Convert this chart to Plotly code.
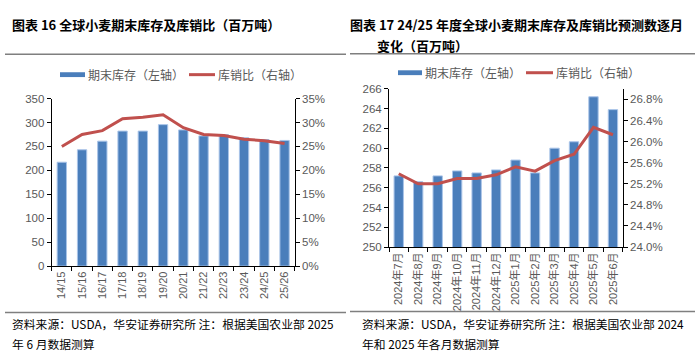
import plotly.graph_objects as go

# ---- data ----
seasons = ["14/15", "15/16", "16/17", "17/18", "18/19", "19/20",
           "20/21", "21/22", "22/23", "23/24", "24/25", "25/26"]
stocks_1 = [217, 243, 261, 282, 282, 295.5, 284.5, 272, 274.5, 268, 264.5, 262.5]
ratio_1 = [25.0, 27.5, 28.3, 30.8, 31.1, 31.6, 28.9, 27.5, 27.3, 26.5, 26.2, 25.6]

months = ["2024年7月", "2024年8月", "2024年9月", "2024年10月", "2024年11月", "2024年12月",
          "2025年1月", "2025年2月", "2025年3月", "2025年4月", "2025年5月", "2025年6月"]
stocks_2 = [257.2, 256.6, 257.2, 257.7, 257.5, 257.8, 258.8, 257.5, 260.0, 260.65, 265.2, 263.9]
ratio_2 = [25.39, 25.2, 25.2, 25.3, 25.3, 25.37, 25.52, 25.44, 25.64, 25.76, 26.27, 26.13]

left1_ticks = [0, 50, 100, 150, 200, 250, 300, 350]
right1_ticks = [0, 5, 10, 15, 20, 25, 30, 35]
left2_ticks = [250, 252, 254, 256, 258, 260, 262, 264, 266]
right2_ticks = [24.0, 24.4, 24.8, 25.2, 25.6, 26.0, 26.4, 26.8]

W, H = 700, 363
BAR = "#4A7EBB"
BAR_EDGE = "#A9C4E8"
LINE = "#C0504D"
TICKC = "#595959"
FONT = "Liberation Sans, Noto Sans CJK SC, sans-serif"
CJK = "Noto Sans CJK SC, sans-serif"


def px(x):
    return x / W


def py(y):
    return 1 - y / H


fig = go.Figure()
fig.add_trace(go.Bar(x=seasons, y=stocks_1, marker=dict(color=BAR, line=dict(color=BAR_EDGE, width=1)),
                     width=0.46, xaxis="x", yaxis="y", name="期末库存（左轴）", showlegend=False))
fig.add_trace(go.Scatter(x=seasons, y=ratio_1, mode="lines", line=dict(color=LINE, width=3),
                         xaxis="x", yaxis="y2", name="库销比（右轴）", showlegend=False))
fig.add_trace(go.Bar(x=months, y=stocks_2, marker=dict(color=BAR, line=dict(color=BAR_EDGE, width=1)),
                     width=0.48, xaxis="x2", yaxis="y3", name="期末库存（左轴）", showlegend=False))
fig.add_trace(go.Scatter(x=months, y=ratio_2, mode="lines", line=dict(color=LINE, width=3),
                         xaxis="x2", yaxis="y4", name="库销比（右轴）", showlegend=False))

tickfont = dict(family=FONT, size=11.5, color=TICKC)
common_y = dict(showgrid=False, zeroline=False, showline=True, linecolor="#000000", linewidth=1,
                ticks="outside", ticklen=4, tickcolor="#000000", tickfont=tickfont, fixedrange=True)
common_x = dict(type="category", showgrid=False, zeroline=False, showline=True, linecolor="#000000",
                linewidth=1, ticks="outside", ticklen=4, tickcolor="#000000", tickson="boundaries",
                tickangle=-90, tickfont=dict(family=FONT, size=11, color=TICKC), fixedrange=True)

x1d = [px(51.7), px(294.7)]
y1d = [py(269), py(95.7)]
x2d = [px(389), px(622.7)]
y2d = [py(249.3), py(85.7)]

fig.update_layout(
    width=W, height=H, margin=dict(l=0, r=0, t=0, b=0),
    paper_bgcolor="white", plot_bgcolor="white", showlegend=False,
    bargap=0,
    xaxis=dict(domain=x1d, anchor="y", range=[-0.5, 11.5], **common_x),
    yaxis=dict(domain=y1d, anchor="x", range=[0, 350], tickvals=left1_ticks, **common_y),
    yaxis2=dict(overlaying="y", side="right", anchor="x", range=[0, 35], tickvals=right1_ticks,
                ticktext=[f"{v}%" for v in right1_ticks], **common_y),
    xaxis2=dict(domain=x2d, anchor="y3", range=[-0.5, 11.5], **common_x),
    yaxis3=dict(domain=y2d, anchor="x2", range=[250, 266], tickvals=left2_ticks, **common_y),
    yaxis4=dict(overlaying="y3", side="right", anchor="x2", range=[24.0, 27.0], tickvals=right2_ticks,
                ticktext=[f"{v:.1f}%" for v in right2_ticks], **common_y),
)

shapes = []
# separator lines
for (x0, x1, y) in [(5, 346, 50), (350, 695, 49.5), (5, 346, 317), (350, 695, 316)]:
    shapes.append(dict(type="line", xref="paper", yref="paper", x0=px(x0), x1=px(x1), y0=py(y), y1=py(y),
                       line=dict(color="#7F7F7F", width=1.5)))
# legend swatches
shapes.append(dict(type="rect", xref="paper", yref="paper", x0=px(60), x1=px(85), y0=py(73.5), y1=py(68.5),
                   fillcolor=BAR, line=dict(width=0)))
shapes.append(dict(type="line", xref="paper", yref="paper", x0=px(189), x1=px(215), y0=py(71), y1=py(71),
                   line=dict(color=LINE, width=3)))
shapes.append(dict(type="rect", xref="paper", yref="paper", x0=px(398), x1=px(422), y0=py(71.5), y1=py(66.5),
                   fillcolor=BAR, line=dict(width=0)))
shapes.append(dict(type="line", xref="paper", yref="paper", x0=px(526), x1=px(553), y0=py(69), y1=py(69),
                   line=dict(color=LINE, width=3)))

annotations = []


def txt(text, x, y, size, color="#000000", bold=False, family=CJK):
    if bold:
        text = "<b>" + text + "</b>"
    annotations.append(dict(text=text, xref="paper", yref="paper", x=px(x), y=py(y), xanchor="left",
                            yanchor="middle", showarrow=False, borderpad=0,
                            font=dict(family=family, size=size, color=color)))


txt("图表 16 全球小麦期末库存及库销比（百万吨）", 11, 19, 13, bold=True)
txt("图表 17 24/25 年度全球小麦期末库存及库销比预测数逐月", 349, 19, 13, bold=True)
txt("变化（百万吨）", 376, 41, 13, bold=True)

txt("期末库存（左轴）", 87, 71, 12, color=TICKC)
txt("库销比（右轴）", 217, 71, 12, color=TICKC)
txt("期末库存（左轴）", 424, 69, 12, color=TICKC)
txt("库销比（右轴）", 555, 69, 12, color=TICKC)

txt("资料来源：USDA，华安证券研究所 注：根据美国农业部 2025", 11, 328, 11.8)
txt("年 6 月数据测算", 11, 349, 11.8)
txt("资料来源：USDA，华安证券研究所 注：根据美国农业部 2024", 361, 328, 11.8)
txt("年和 2025 年各月数据测算", 361, 349, 11.8)

fig.update_layout(shapes=shapes, annotations=annotations)
fig.write_html("out.html", config={"displayModeBar": False, "staticPlot": True},
               post_script="document.body.style.margin='0';document.body.style.padding='0';")
